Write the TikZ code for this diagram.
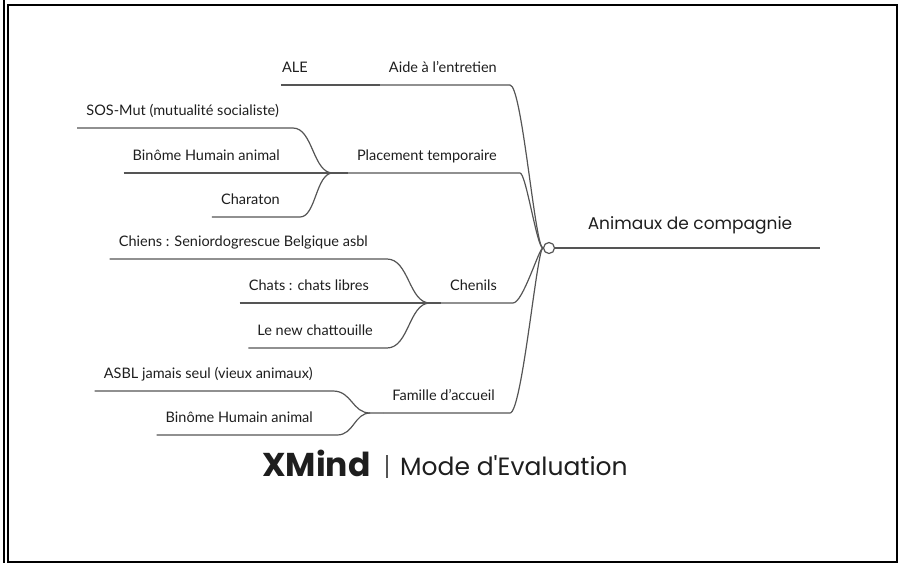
\documentclass[tikz,border=0pt]{standalone}
\usepackage{fontspec}
\setmainfont{Lato}
\newfontfamily\logofont{Poppins}
\usetikzlibrary{positioning}
\definecolor{lineGray}{HTML}{555555}
\definecolor{textDark}{HTML}{1E1E1E}
\begin{document}
\begin{tikzpicture}[x=1pt, y=-1pt,
	main/.style={anchor=south east, inner xsep=9pt, inner ysep=12pt, text depth=0pt, font=\fontsize{14.5}{17}\selectfont, text=textDark},
	sub/.style={anchor=south east, inner xsep=9pt, inner ysep=12pt, text depth=0pt, font=\fontsize{14.5}{17}\selectfont, text=textDark},
	root/.style={anchor=south, minimum width=259pt, inner ysep=18pt, text depth=0pt, font=\logofont\fontsize{17}{20}\selectfont, text=textDark},
	branch/.style={draw=lineGray, line width=1.2pt}]
	\useasboundingbox (0,0) rectangle (899,563);
	% cadre
	\draw[line width=2pt] (8,4.5) rectangle (896.5,561.5);
	\draw[line width=2pt] (4,0) -- (4,563);
	% sujet central
	\node[draw=lineGray, fill=white, circle, line width=1.2pt, minimum size=11pt, inner sep=0pt] (H) at (549,248) {};
	\node[root] (A) at (690,248) {Animaux de compagnie};
	\draw[branch] (H.east) -- (A.south east);
	% branches principales
	\node[main] (T1) at (506,85) {Aide à l'entretien};
	\node[main] (T2) at (506,173) {Placement temporaire};
	\node[main] (T3) at (506,303) {Chenils};
	\node[main] (T4) at (504,413) {Famille d'accueil};
	\draw[branch] (T1.south west) -- (T1.south east) -- ++(4,0) .. controls +(12,0) and +(-14,0) .. (H);
	\draw[branch] (T2.south west) -- (T2.south east) -- ++(14,0) .. controls +(6,0) and +(-12,0) .. (H);
	\draw[branch] (T3.south west) -- (T3.south east) -- ++(7,0) .. controls +(10,0) and +(-10,0) .. (H);
	\draw[branch] (T4.south west) -- (T4.south east) -- ++(6,0) .. controls +(12,0) and +(-12,0) .. (H);
	% sous-branches
	\node[sub, inner xsep=1pt] (S11) at (309,85) {ALE};
	\node[sub] (S21) at (288,128) {SOS-Mut (mutualité socialiste)};
	\node[sub] (S22) at (289,173) {Binôme Humain animal};
	\node[sub] (S23) at (289,217) {Charaton};
	\node[sub] (S31) at (377,259) {Chiens : Seniordogrescue Belgique asbl};
	\node[sub] (S32) at (378,303) {Chats : chats libres};
	\node[sub] (S33) at (382,348) {Le new chattouille};
	\node[sub] (S41) at (322,391) {ASBL jamais seul (vieux animaux)};
	\node[sub] (S42) at (322,435) {Binôme Humain animal};
	\draw[branch] (S11.south west) -- (T1.south west);
	\draw[branch] (S21.south west) -- (S21.south east) -- ++(5,0) .. controls +(20,0) and +(-20,0) .. ([xshift=-15pt]T2.south west) -- (T2.south west);
	\draw[branch] (S22.south west) -- (T2.south west);
	\draw[branch] (S23.south west) -- (S23.south east) -- ++(11,0) .. controls +(16,0) and +(-17,0) .. ([xshift=-15pt]T2.south west);
	\draw[branch] (S31.south west) -- (S31.south east) -- ++(10,0) .. controls +(22,0) and +(-21,0) .. ([xshift=-11pt]T3.south west) -- (T3.south west);
	\draw[branch] (S32.south west) -- (T3.south west);
	\draw[branch] (S33.south west) -- (S33.south east) -- ++(5,0) .. controls +(22,0) and +(-21,0) .. ([xshift=-11pt]T3.south west);
	\draw[branch] (S41.south west) -- (S41.south east) -- ++(11,0) .. controls +(19,0) and +(-18,0) .. ([xshift=-13pt]T4.south west) -- (T4.south west);
	\draw[branch] (S42.south west) -- (S42.south east) -- ++(15,0) .. controls +(17,0) and +(-16,0) .. ([xshift=-13pt]T4.south west);
	% logo
	\node[anchor=base west, inner sep=0pt, font=\logofont\bfseries\fontsize{33}{36}\selectfont, text=textDark] (L1) at (262,476) {XMind};
	\node[anchor=base west, inner sep=0pt, font=\logofont\fontsize{25}{30}\selectfont, text=textDark] (L2) at (400,475) {Mode d'Evaluation};
	\node[fill=lineGray, minimum width=1.5pt, minimum height=23pt, inner sep=0pt, anchor=north] (L0) at (387,455) {};
\end{tikzpicture}
\end{document}
